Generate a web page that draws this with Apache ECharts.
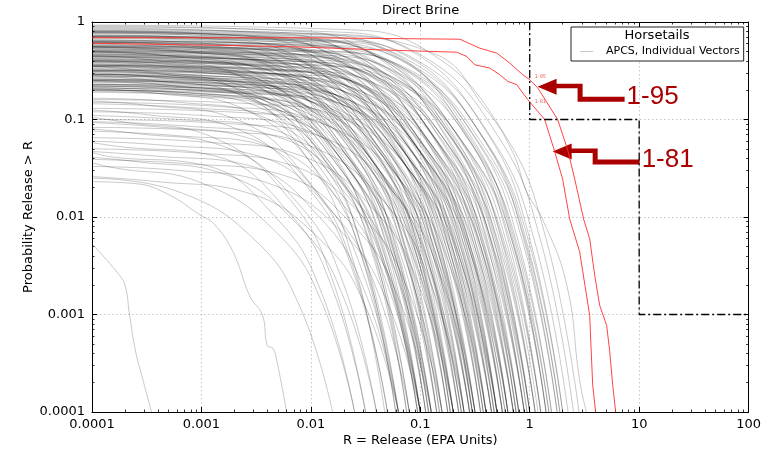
<!DOCTYPE html>
<html><head><meta charset="utf-8">
<style>html,body{margin:0;padding:0;background:#fff}#c{width:764px;height:452px}</style>
<script src="https://cdn.jsdelivr.net/npm/echarts@6/dist/echarts.min.js"></script>
</head><body><div id="c"></div>
<script>
const xTickLabels = ['0.0001','0.001','0.01','0.1','1','10','100'];
const yTickLabels = ['0.0001','0.001','0.01','0.1','1'];

// Red highlighted vectors
const curve195 = [[1e-4,0.69],[0.0079,0.69],[0.23,0.666],[0.349,0.539],[0.50,0.48],[0.656,0.379],[0.863,0.288],[1.0,0.256],[1.18,0.212],[1.80,0.1],[2.22,0.049],[2.58,0.0244],[3.11,0.0095],[3.53,0.00597],[3.93,0.0025],[4.36,0.00124],[5.05,0.00077],[5.38,0.00042],[5.73,0.00019],[6.10,1e-4]];
const curve181 = [[1e-4,0.606],[0.006,0.56],[0.0427,0.518],[0.215,0.49],[0.266,0.443],[0.315,0.364],[0.431,0.337],[0.532,0.288],[0.63,0.246],[0.76,0.228],[0.96,0.16],[1.37,0.1],[1.69,0.047],[2.0,0.0244],[2.32,0.0095],[2.86,0.0044],[3.53,0.00098],[3.76,0.00019],[4.0,1e-4]];

// EPA limit (dashed)
const epaLimit = [[1,1],[1,0.1],[10,0.1],[10,0.001],[100,0.001]];

// Annotation anchors (data coords)
const arrowTips = [{label:'1-95', at:[1.18,0.217], drop:10}, {label:'1-81', at:[1.62,0.047], drop:8}];
const smallTags = [{label:'1-95', at:[1.11,0.275]}, {label:'1-81', at:[1.11,0.153]}];

// Horsetail vectors
const horsetailsTop = [
[[1e-4,.93],[.0178,.84],[.112,.516],[.562,.0764],[1.41,.00598],[2.82,1e-4]],
[[1e-4,.89],[.0126,.80],[.0794,.516],[.398,.0764],[1.0,.00598],[2.0,1e-4]],
[[1e-4,.85],[.00794,.765],[.0501,.516],[.251,.0764],[.631,.00598],[1.26,1e-4]],
[[1e-4,.91],[.00501,.82],[.0316,.516],[.158,.0764],[.398,.00598],[.794,1e-4]],
[[1e-4,.87],[.00316,.78],[.02,.516],[.1,.0764],[.251,.00598],[.501,1e-4]],
[[1e-4,.81],[.0158,.73],[.1,.463],[.501,.0703],[1.26,.00569],[2.51,1e-4]],
[[1e-4,.78],[.0112,.70],[.0708,.463],[.355,.0703],[.891,.00569],[1.78,1e-4]],
[[1e-4,.80],[.00891,.72],[.0562,.463],[.282,.0703],[.708,.00569],[1.41,1e-4]],
[[1e-4,.76],[.00631,.684],[.0398,.463],[.2,.0703],[.501,.00569],[1.0,1e-4]],
[[1e-4,.79],[.00398,.71],[.0251,.463],[.126,.0703],[.316,.00569],[.631,1e-4]],
[[1e-4,.77],[.00251,.69],[.0158,.463],[.0794,.0703],[.2,.00569],[.398,1e-4]],
[[1e-4,.82],[.00158,.74],[.01,.463],[.0501,.0703],[.126,.00569],[.251,1e-4]],
[[1e-4,.72],[.0141,.65],[.0891,.416],[.447,.0646],[1.12,.0054],[2.24,1e-4]],
[[1e-4,.70],[.01,.63],[.0631,.416],[.316,.0646],[.794,.0054],[1.58,1e-4]],
[[1e-4,.73],[.00708,.66],[.0447,.416],[.224,.0646],[.562,.0054],[1.12,1e-4]],
[[1e-4,.69],[.00562,.62],[.0355,.416],[.178,.0646],[.447,.0054],[.891,1e-4]],
[[1e-4,.71],[.00355,.64],[.0224,.416],[.112,.0646],[.282,.0054],[.562,1e-4]],
[[1e-4,.68],[.00224,.61],[.0141,.416],[.0708,.0646],[.178,.0054],[.355,1e-4]],
[[1e-4,.74],[.00126,.67],[.00794,.416],[.0398,.0646],[.1,.0054],[.2,1e-4]],
[[1e-4,.78],[.00596,.70],[.0376,.463],[.188,.0703],[.473,.00569],[.944,1e-4]],
[[1e-4,.80],[.00237,.72],[.01496,.463],[.075,.0703],[.188,.00569],[.376,1e-4]],
[[1e-4,.71],[.01189,.64],[.075,.416],[.376,.0646],[.944,.0054],[1.884,1e-4]],
[[1e-4,.72],[.00473,.65],[.02985,.416],[.1496,.0646],[.376,.0054],[.75,1e-4]],
[[1e-4,.70],[.001884,.63],[.01189,.416],[.0596,.0646],[.1496,.0054],[.2985,1e-4]]
];
const horsetailsUpper = [
[[1e-4,.64],[.0126,.58],[.0794,.373],[.398,.0594],[1.0,.00513],[2.0,1e-4]],
[[1e-4,.62],[.00891,.56],[.0562,.373],[.282,.0594],[.708,.00513],[1.41,1e-4]],
[[1e-4,.65],[.00631,.585],[.0398,.373],[.2,.0594],[.501,.00513],[1.0,1e-4]],
[[1e-4,.61],[.00447,.55],[.0282,.373],[.141,.0594],[.355,.00513],[.708,1e-4]],
[[1e-4,.63],[.00316,.57],[.02,.373],[.1,.0594],[.251,.00513],[.501,1e-4]],
[[1e-4,.60],[.002,.54],[.0126,.373],[.0631,.0594],[.158,.00513],[.316,1e-4]],
[[1e-4,.66],[.00141,.59],[.00891,.373],[.0447,.0594],[.112,.00513],[.224,1e-4]],
[[1e-4,.62],[.000891,.56],[.00562,.373],[.0282,.0594],[.0708,.00513],[.141,1e-4]],
[[1e-4,.64],[.00944,.575],[.0596,.373],[.2985,.0594],[.75,.00513],[1.496,1e-4]],
[[1e-4,.62],[.002985,.56],[.01884,.373],[.0944,.0594],[.237,.00513],[.473,1e-4]],
[[1e-4,.63],[.001189,.57],[.0075,.373],[.0376,.0594],[.0944,.00513],[.188,1e-4]],
[[1e-4,.57],[.0112,.51],[.0708,.335],[.355,.0546],[.891,.00487],[1.78,1e-4]],
[[1e-4,.55],[.00794,.495],[.0501,.335],[.251,.0546],[.631,.00487],[1.26,1e-4]],
[[1e-4,.58],[.00562,.52],[.0355,.335],[.178,.0546],[.447,.00487],[.891,1e-4]],
[[1e-4,.54],[.00398,.485],[.0251,.335],[.126,.0546],[.316,.00487],[.631,1e-4]],
[[1e-4,.56],[.00282,.505],[.0178,.335],[.0891,.0546],[.224,.00487],[.447,1e-4]],
[[1e-4,.53],[.00178,.48],[.0112,.335],[.0562,.0546],[.141,.00487],[.282,1e-4]],
[[1e-4,.59],[.00112,.53],[.00708,.335],[.0355,.0546],[.0891,.00487],[.178,1e-4]],
[[1e-4,.55],[.000708,.495],[.00447,.335],[.0224,.0546],[.0562,.00487],[.112,1e-4]],
[[1e-4,.56],[.01189,.50],[.075,.335],[.376,.0546],[.944,.00487],[1.884,1e-4]],
[[1e-4,.57],[.00473,.51],[.02985,.335],[.1496,.0546],[.376,.00487],[.75,1e-4]],
[[1e-4,.55],[.001884,.495],[.01189,.335],[.0596,.0546],[.1496,.00487],[.2985,1e-4]],
[[1e-4,.56],[.00075,.505],[.00473,.335],[.0237,.0546],[.0596,.00487],[.1189,1e-4]],
[[1e-4,.51],[.01,.46],[.0631,.301],[.316,.0502],[.794,.00462],[1.58,1e-4]],
[[1e-4,.49],[.00708,.44],[.0447,.301],[.224,.0502],[.562,.00462],[1.12,1e-4]],
[[1e-4,.52],[.00501,.47],[.0316,.301],[.158,.0502],[.398,.00462],[.794,1e-4]],
[[1e-4,.48],[.00355,.43],[.0224,.301],[.112,.0502],[.282,.00462],[.562,1e-4]],
[[1e-4,.50],[.00251,.45],[.0158,.301],[.0794,.0502],[.2,.00462],[.398,1e-4]],
[[1e-4,.47],[.00158,.42],[.01,.301],[.0501,.0502],[.126,.00462],[.251,1e-4]],
[[1e-4,.53],[.001,.48],[.00631,.301],[.0316,.0502],[.0794,.00462],[.158,1e-4]],
[[1e-4,.49],[.000631,.44],[.00398,.301],[.02,.0502],[.0501,.00462],[.1,1e-4]],
[[1e-4,.50],[.0075,.45],[.0473,.301],[.237,.0502],[.596,.00462],[1.189,1e-4]],
[[1e-4,.51],[.002985,.46],[.01884,.301],[.0944,.0502],[.237,.00462],[.473,1e-4]],
[[1e-4,.49],[.001189,.44],[.0075,.301],[.0376,.0502],[.0944,.00462],[.188,1e-4]],
[[1e-4,.50],[.000473,.45],[.002985,.301],[.01496,.0502],[.0376,.00462],[.075,1e-4]]
];
const horsetailsMiddle = [
[[1e-4,.46],[.00891,.41],[.0562,.27],[.282,.0462],[.708,.00439],[1.41,1e-4]],
[[1e-4,.44],[.00631,.40],[.0398,.27],[.2,.0462],[.501,.00439],[1.0,1e-4]],
[[1e-4,.45],[.00447,.405],[.0282,.27],[.141,.0462],[.355,.00439],[.708,1e-4]],
[[1e-4,.43],[.00316,.39],[.02,.27],[.1,.0462],[.251,.00439],[.501,1e-4]],
[[1e-4,.47],[.00224,.42],[.0141,.27],[.0708,.0462],[.178,.00439],[.355,1e-4]],
[[1e-4,.42],[.00141,.38],[.00891,.27],[.0447,.0462],[.112,.00439],[.224,1e-4]],
[[1e-4,.45],[.000891,.405],[.00562,.27],[.0282,.0462],[.0708,.00439],[.141,1e-4]],
[[1e-4,.44],[.00596,.40],[.0376,.27],[.188,.0462],[.473,.00439],[.944,1e-4]],
[[1e-4,.46],[.00237,.41],[.01496,.27],[.075,.0462],[.188,.00439],[.376,1e-4]],
[[1e-4,.44],[.000944,.395],[.00596,.27],[.02985,.0462],[.075,.00439],[.1496,1e-4]],
[[1e-4,.45],[.000376,.405],[.00237,.27],[.01189,.0462],[.02985,.00439],[.0596,1e-4]],
[[1e-4,.41],[.00794,.37],[.0501,.242],[.251,.0425],[.631,.00417],[1.26,1e-4]],
[[1e-4,.39],[.00562,.35],[.0355,.242],[.178,.0425],[.447,.00417],[.891,1e-4]],
[[1e-4,.40],[.00398,.36],[.0251,.242],[.126,.0425],[.316,.00417],[.631,1e-4]],
[[1e-4,.38],[.00282,.34],[.0178,.242],[.0891,.0425],[.224,.00417],[.447,1e-4]],
[[1e-4,.42],[.002,.38],[.0126,.242],[.0631,.0425],[.158,.00417],[.316,1e-4]],
[[1e-4,.37],[.00126,.33],[.00794,.242],[.0398,.0425],[.1,.00417],[.2,1e-4]],
[[1e-4,.40],[.000794,.36],[.00501,.242],[.0251,.0425],[.0631,.00417],[.126,1e-4]],
[[1e-4,.39],[.000501,.35],[.00316,.242],[.0158,.0425],[.0398,.00417],[.0794,1e-4]],
[[1e-4,.40],[.00944,.36],[.0596,.242],[.2985,.0425],[.75,.00417],[1.496,1e-4]],
[[1e-4,.39],[.00376,.35],[.0237,.242],[.1189,.0425],[.2985,.00417],[.596,1e-4]],
[[1e-4,.41],[.001496,.37],[.00944,.242],[.0473,.0425],[.1189,.00417],[.237,1e-4]],
[[1e-4,.40],[.000596,.36],[.00376,.242],[.01884,.0425],[.0473,.00417],[.0944,1e-4]],
[[1e-4,.36],[.00708,.32],[.0447,.217],[.224,.039],[.562,.00396],[1.12,1e-4]],
[[1e-4,.35],[.00501,.315],[.0316,.217],[.158,.039],[.398,.00396],[.794,1e-4]],
[[1e-4,.37],[.00355,.33],[.0224,.217],[.112,.039],[.282,.00396],[.562,1e-4]],
[[1e-4,.34],[.00251,.305],[.0158,.217],[.0794,.039],[.2,.00396],[.398,1e-4]],
[[1e-4,.36],[.00178,.32],[.0112,.217],[.0562,.039],[.141,.00396],[.282,1e-4]],
[[1e-4,.33],[.00112,.30],[.00708,.217],[.0355,.039],[.0891,.00396],[.178,1e-4]],
[[1e-4,.35],[.000708,.315],[.00447,.217],[.0224,.039],[.0562,.00396],[.112,1e-4]],
[[1e-4,.36],[.00473,.32],[.02985,.217],[.1496,.039],[.376,.00396],[.75,1e-4]],
[[1e-4,.35],[.001884,.315],[.01189,.217],[.0596,.039],[.1496,.00396],[.2985,1e-4]],
[[1e-4,.36],[.00075,.325],[.00473,.217],[.0237,.039],[.0596,.00396],[.1189,1e-4]],
[[1e-4,.35],[.000298,.315],[.001884,.217],[.00944,.039],[.0237,.00396],[.0473,1e-4]],
[[1e-4,.32],[.00631,.29],[.0398,.195],[.2,.0359],[.501,.00376],[1.0,1e-4]],
[[1e-4,.31],[.00447,.28],[.0282,.195],[.141,.0359],[.355,.00376],[.708,1e-4]],
[[1e-4,.33],[.00316,.30],[.02,.195],[.1,.0359],[.251,.00376],[.501,1e-4]],
[[1e-4,.30],[.00224,.27],[.0141,.195],[.0708,.0359],[.178,.00376],[.355,1e-4]],
[[1e-4,.32],[.00158,.29],[.01,.195],[.0501,.0359],[.126,.00376],[.251,1e-4]],
[[1e-4,.29],[.001,.26],[.00631,.195],[.0316,.0359],[.0794,.00376],[.158,1e-4]],
[[1e-4,.31],[.000631,.28],[.00398,.195],[.02,.0359],[.0501,.00376],[.1,1e-4]],
[[1e-4,.30],[.000398,.27],[.00251,.195],[.0126,.0359],[.0316,.00376],[.0631,1e-4]],
[[1e-4,.32],[.00376,.29],[.0237,.195],[.1189,.0359],[.2985,.00376],[.596,1e-4]],
[[1e-4,.31],[.001189,.28],[.0075,.195],[.0376,.0359],[.0944,.00376],[.188,1e-4]],
[[1e-4,.32],[.000473,.29],[.002985,.195],[.01496,.0359],[.0376,.00376],[.075,1e-4]]
];
const horsetailsLower = [
[[1e-4,.29],[.00562,.26],[.0355,.175],[.178,.033],[.447,.00357],[.891,1e-4]],
[[1e-4,.28],[.00398,.25],[.0251,.175],[.126,.033],[.316,.00357],[.631,1e-4]],
[[1e-4,.27],[.00282,.24],[.0178,.175],[.0891,.033],[.224,.00357],[.447,1e-4]],
[[1e-4,.29],[.002,.26],[.0126,.175],[.0631,.033],[.158,.00357],[.316,1e-4]],
[[1e-4,.28],[.00126,.25],[.00794,.175],[.0398,.033],[.1,.00357],[.2,1e-4]],
[[1e-4,.26],[.000794,.235],[.00501,.175],[.0251,.033],[.0631,.00357],[.126,1e-4]],
[[1e-4,.28],[.00237,.25],[.01496,.175],[.075,.033],[.188,.00357],[.376,1e-4]],
[[1e-4,.29],[.000944,.26],[.00596,.175],[.02985,.033],[.075,.00357],[.1496,1e-4]],
[[1e-4,.28],[.000376,.25],[.00237,.175],[.01189,.033],[.02985,.00357],[.0596,1e-4]],
[[1e-4,.26],[.00501,.235],[.0316,.157],[.158,.0303],[.398,.00339],[.794,1e-4]],
[[1e-4,.25],[.00355,.225],[.0224,.157],[.112,.0303],[.282,.00339],[.562,1e-4]],
[[1e-4,.24],[.00251,.215],[.0158,.157],[.0794,.0303],[.2,.00339],[.398,1e-4]],
[[1e-4,.26],[.00178,.235],[.0112,.157],[.0562,.0303],[.141,.00339],[.282,1e-4]],
[[1e-4,.25],[.00112,.225],[.00708,.157],[.0355,.0303],[.0891,.00339],[.178,1e-4]],
[[1e-4,.23],[.000708,.21],[.00447,.157],[.0224,.0303],[.0562,.00339],[.112,1e-4]],
[[1e-4,.25],[.000501,.225],[.00316,.157],[.0158,.0303],[.0398,.00339],[.0794,1e-4]],
[[1e-4,.25],[.002985,.225],[.01884,.157],[.0944,.0303],[.237,.00339],[.473,1e-4]],
[[1e-4,.255],[.001496,.23],[.00944,.157],[.0473,.0303],[.1189,.00339],[.237,1e-4]],
[[1e-4,.245],[.000596,.22],[.00376,.157],[.01884,.0303],[.0473,.00339],[.0944,1e-4]],
[[1e-4,.23],[.00447,.21],[.0282,.141],[.141,.0279],[.355,.00322],[.708,1e-4]],
[[1e-4,.22],[.00316,.20],[.02,.141],[.1,.0279],[.251,.00322],[.501,1e-4]],
[[1e-4,.21],[.002,.19],[.0126,.141],[.0631,.0279],[.158,.00322],[.316,1e-4]],
[[1e-4,.23],[.00141,.21],[.00891,.141],[.0447,.0279],[.112,.00322],[.224,1e-4]],
[[1e-4,.22],[.000891,.20],[.00562,.141],[.0282,.0279],[.0708,.00322],[.141,1e-4]],
[[1e-4,.215],[.000631,.19],[.00398,.141],[.02,.0279],[.0501,.00322],[.1,1e-4]],
[[1e-4,.225],[.001884,.20],[.01189,.141],[.0596,.0279],[.1496,.00322],[.2985,1e-4]],
[[1e-4,.22],[.00075,.20],[.00473,.141],[.0237,.0279],[.0596,.00322],[.1189,1e-4]],
[[1e-4,.20],[.00398,.18],[.0251,.126],[.126,.0256],[.316,.00305],[.631,1e-4]],
[[1e-4,.21],[.00282,.19],[.0178,.126],[.0891,.0256],[.224,.00305],[.447,1e-4]],
[[1e-4,.19],[.00178,.17],[.0112,.126],[.0562,.0256],[.141,.00305],[.282,1e-4]],
[[1e-4,.20],[.00126,.18],[.00794,.126],[.0398,.0256],[.1,.00305],[.2,1e-4]],
[[1e-4,.195],[.000794,.175],[.00501,.126],[.0251,.0256],[.0631,.00305],[.126,1e-4]],
[[1e-4,.205],[.000398,.185],[.00251,.126],[.0126,.0256],[.0316,.00305],[.0631,1e-4]],
[[1e-4,.20],[.001496,.18],[.00944,.126],[.0473,.0256],[.1189,.00305],[.237,1e-4]],
[[1e-4,.205],[.000596,.185],[.00376,.126],[.01884,.0256],[.0473,.00305],[.0944,1e-4]]
];
const horsetailsLow = [
[[1e-4,.16],[.00316,.144],[.02,.102],[.1,.0217],[.251,.00275],[.501,1e-4]],
[[1e-4,.15],[.00158,.135],[.01,.102],[.0501,.0217],[.126,.00275],[.251,1e-4]],
[[1e-4,.145],[.001,.13],[.00631,.102],[.0316,.0217],[.0794,.00275],[.158,1e-4]],
[[1e-4,.165],[.000631,.15],[.00398,.102],[.02,.0217],[.0501,.00275],[.1,1e-4]],
[[1e-4,.155],[.000316,.14],[.002,.102],[.01,.0217],[.0251,.00275],[.0501,1e-4]],
[[1e-4,.13],[.00251,.117],[.0158,.082],[.0794,.0183],[.2,.00248],[.398,1e-4]],
[[1e-4,.12],[.00126,.108],[.00794,.082],[.0398,.0183],[.1,.00248],[.2,1e-4]],
[[1e-4,.11],[.000631,.10],[.00398,.082],[.02,.0183],[.0501,.00248],[.1,1e-4]],
[[1e-4,.125],[.000316,.112],[.002,.082],[.01,.0183],[.0251,.00248],[.0501,1e-4]],
[[1e-4,.10],[.002,.09],[.0126,.066],[.0631,.0155],[.158,.00224],[.316,1e-4]],
[[1e-4,.095],[.000794,.085],[.00501,.066],[.0251,.0155],[.0631,.00224],[.126,1e-4]],
[[1e-4,.093],[.000398,.084],[.00251,.066],[.0126,.0155],[.0316,.00224],[.0631,1e-4]],
[[1e-4,.105],[.0002,.094],[.00126,.066],[.00631,.0155],[.0158,.00224],[.0316,1e-4]],
[[1e-4,.083],[.00158,.075],[.01,.0532],[.0501,.0131],[.126,.00202],[.251,1e-4]],
[[1e-4,.076],[.000631,.068],[.00398,.0532],[.02,.0131],[.0501,.00202],[.1,1e-4]],
[[1e-4,.08],[.000251,.072],[.00158,.0532],[.00794,.0131],[.02,.00202],[.0398,1e-4]],
[[1e-4,.065],[.00126,.058],[.00794,.0429],[.0398,.0111],[.1,.00182],[.2,1e-4]],
[[1e-4,.06],[.000501,.054],[.00316,.0429],[.0158,.0111],[.0398,.00182],[.0794,1e-4]],
[[1e-4,.058],[.0002,.052],[.00126,.0429],[.00631,.0111],[.0158,.00182],[.0316,1e-4]],
[[1e-4,.05],[.001,.045],[.00631,.0345],[.0316,.00935],[.0794,.00164],[.158,1e-4]],
[[1e-4,.047],[.000398,.042],[.00251,.0345],[.0126,.00935],[.0316,.00164],[.0631,1e-4]],
[[1e-4,.046],[.000158,.041],[.001,.0345],[.00501,.00935],[.0126,.00164],[.0251,1e-4]],
[[1e-4,.039],[.000794,.035],[.00501,.0278],[.0251,.0079],[.0631,.00148],[.126,1e-4]],
[[1e-4,.041],[.000251,.037],[.00158,.0278],[.00794,.0079],[.02,.00148],[.0398,1e-4]],
[[1e-4,.033],[.000631,.03],[.00398,.0224],[.02,.00668],[.0501,.00133],[.1,1e-4]],
[[1e-4,.036],[.000158,.032],[.001,.0224],[.00501,.00668],[.0126,.00133],[.0251,1e-4]],
[[1e-4,.026],[.000398,.023],[.00251,.018],[.0126,.00565],[.0316,.0012],[.0631,1e-4]],
[[1e-4,.025],[.000631,.018],[.00316,.00565],[.00794,.0012],[.0158,1e-4]]
];
const horsetailRightmost = [[1e-4,0.83],[0.0079,0.77],[0.13,0.48],[0.40,0.126],[0.70,0.046],[0.94,0.018],[1.31,0.0095],[2.18,0.002],[2.86,0.00021],[3.3,1e-4]];
const horsetailLowA = [[1e-4,0.0053],[1.7e-4,0.0027],[2.0e-4,0.0020],[2.2e-4,0.001],[2.5e-4,0.00042],[2.9e-4,0.00022],[3.5e-4,1e-4]];
const horsetailLowB = [[1e-4,0.023],[2.5e-4,0.022],[5e-4,0.017],[9.7e-4,0.0105],[1.3e-3,0.0085],[1.94e-3,0.0044],[2.8e-3,0.0015],[3.6e-3,0.001],[4.0e-3,4.8e-4],[4.5e-3,4.5e-4],[4.9e-3,3.3e-4],[6e-3,1e-4]];

const allHorsetails = [].concat(horsetailsTop, horsetailsUpper, horsetailsMiddle, horsetailsLower, horsetailsLow, [horsetailRightmost, horsetailLowA, horsetailLowB]);

const FONT = "'DejaVu Sans', sans-serif";
const chart = echarts.init(document.getElementById('c'), null, {renderer: 'canvas'});

const grayName = 'APCS, Individual Vectors';
const series = allHorsetails.map(d => ({
  type: 'line', name: grayName, data: d, symbol: 'none', smooth: 0.45,
  silent: true, animation: false, z: 2,
  lineStyle: {color: '#000', width: 0.9, opacity: 0.24},
  itemStyle: {color: '#c8c8c8'}
}));
series.push({type: 'line', name: '1-95', data: curve195, symbol: 'none', silent: true, animation: false, z: 3,
  lineStyle: {color: '#ff3030', width: 1, opacity: 0.9}});
series.push({type: 'line', name: '1-81', data: curve181, symbol: 'none', silent: true, animation: false, z: 3,
  lineStyle: {color: '#ff3030', width: 1, opacity: 0.9}});
series.push({type: 'line', name: 'EPA Limit', data: epaLimit, symbol: 'none', silent: true, animation: false, z: 4,
  lineStyle: {color: '#000', width: 1.3, type: [8, 3, 2, 3]}});

const tickCommon = {show: true, inside: true, length: 5, lineStyle: {color: '#000', width: 1}};
const minorCommon = {show: true, splitNumber: 9, length: 2.5, lineStyle: {color: '#000', width: 0.8}};
const axisLineCommon = {show: true, lineStyle: {color: '#000', width: 1}};
const splitLineCommon = {show: true, lineStyle: {color: '#b8b8b8', width: 0.8, type: [1.5, 2.5]}};

function xFmt(v) { return xTickLabels[Math.round(Math.log10(v)) + 4]; }
function yFmt(v) { return yTickLabels[Math.round(Math.log10(v)) + 4]; }

const option = {
  animation: false,
  backgroundColor: '#fff',
  title: {text: 'Direct Brine', left: 382, top: 4, padding: 0,
    textStyle: {fontFamily: FONT, fontSize: 13, fontWeight: 'normal', color: '#000'}},
  grid: {left: 92, right: 15, top: 22, bottom: 38, containLabel: false},
  legend: {
    data: [{name: grayName, icon: 'rect'}], left: 571, top: 27, padding: [18, 4, 3, 9], itemWidth: 13, itemHeight: 1,
    backgroundColor: '#fff', borderColor: '#222', borderWidth: 1, borderRadius: 0, selectedMode: false, z: 10,
    itemStyle: {color: '#c8c8c8', opacity: 1},
    textStyle: {fontFamily: FONT, fontSize: 11, color: '#000', padding: [0, 0, 0, 8], lineHeight: 13}
  },
  xAxis: [
    {type: 'log', logBase: 10, min: 1e-4, max: 100, position: 'bottom', splitNumber: 6,
      name: 'R = Release (EPA Units)', nameLocation: 'middle', nameGap: 22, nameMoveOverlap: false,
      nameTextStyle: {fontFamily: FONT, fontSize: 13, color: '#000'},
      axisLine: axisLineCommon, axisTick: tickCommon, minorTick: minorCommon,
      axisLabel: {fontFamily: FONT, fontSize: 13, color: '#000', margin: 6, formatter: xFmt, showMinLabel: true, showMaxLabel: true, hideOverlap: false},
      splitLine: splitLineCommon},
    {type: 'log', logBase: 10, min: 1e-4, max: 100, position: 'top', splitNumber: 6,
      axisLine: axisLineCommon, axisTick: tickCommon, minorTick: minorCommon,
      axisLabel: {show: false}, splitLine: {show: false}}
  ],
  yAxis: [
    {type: 'log', logBase: 10, min: 1e-4, max: 1, position: 'left', splitNumber: 4,
      name: 'Probability Release > R', nameLocation: 'middle', nameGap: 57, nameMoveOverlap: false,
      nameTextStyle: {fontFamily: FONT, fontSize: 13, color: '#000'},
      axisLine: axisLineCommon, axisTick: tickCommon, minorTick: minorCommon,
      axisLabel: {fontFamily: FONT, fontSize: 13, color: '#000', margin: 7, formatter: yFmt, showMinLabel: true, showMaxLabel: true, hideOverlap: false},
      splitLine: splitLineCommon},
    {type: 'log', logBase: 10, min: 1e-4, max: 1, position: 'right', splitNumber: 4,
      axisLine: axisLineCommon, axisTick: tickCommon, minorTick: minorCommon,
      axisLabel: {show: false}, splitLine: {show: false}}
  ],
  series: series
};
chart.setOption(option);

// Annotations anchored to data coordinates
const graphics = [{
  type: 'text', z: 100,
  style: {x: 657, y: 36, text: 'Horsetails', align: 'center', verticalAlign: 'middle', font: "13px 'DejaVu Sans'", fill: '#000'}
}];
arrowTips.forEach(a => {
  const p = chart.convertToPixel({seriesIndex: 0}, a.at);
  const d = a.drop;
  graphics.push({
    type: 'group', x: p[0], y: p[1], z: 50,
    children: [
      {type: 'polygon', shape: {points: [[0,0],[19,-8],[19,-3],[45,-3],[45,d],[87,d],[87,d+5],[40,d+5],[40,1.5],[19,1.5],[19,8]]},
        style: {fill: '#aa0000', stroke: null}},
      {type: 'text', style: {x: 89, y: d + 0.5, text: a.label, align: 'left', verticalAlign: 'middle',
        font: "26px 'Liberation Sans', Arial, sans-serif", fill: '#aa0000'}}
    ]
  });
});
smallTags.forEach(t => {
  const p = chart.convertToPixel({seriesIndex: 0}, t.at);
  graphics.push({type: 'text', z: 50, style: {x: p[0], y: p[1], text: t.label, align: 'left', verticalAlign: 'middle',
    font: "5px 'DejaVu Sans'", fill: '#f06060'}});
});
chart.setOption({graphic: graphics});
</script>
</body></html>
